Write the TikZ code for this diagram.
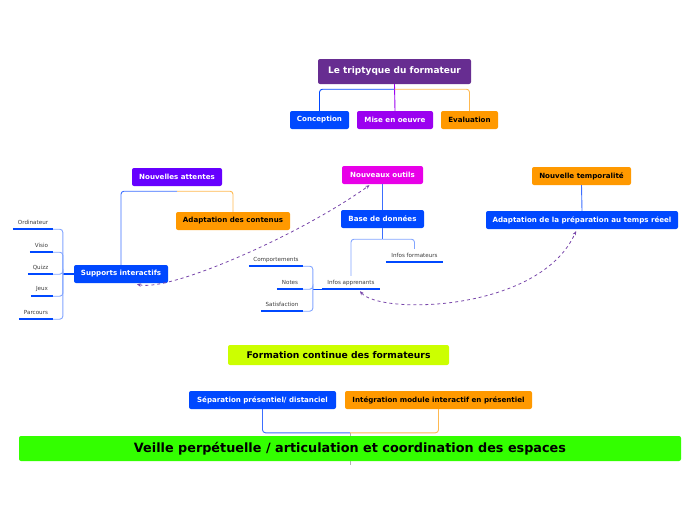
\documentclass[tikz,border=0pt]{standalone}
\usepackage{fontspec}
\setmainfont{DejaVu Sans}
\usetikzlibrary{arrows.meta,backgrounds}
\definecolor{rootpurple}{RGB}{103,45,145}
\definecolor{mapblue}{RGB}{0,72,255}
\definecolor{miseviolet}{RGB}{155,0,240}
\definecolor{attviolet}{RGB}{102,0,255}
\definecolor{outmagenta}{RGB}{232,0,232}
\definecolor{maporange}{RGB}{255,153,0}
\definecolor{lightorange}{RGB}{255,185,80}
\definecolor{lightblue}{RGB}{130,165,255}
\definecolor{midblue}{RGB}{60,110,255}
\definecolor{lime}{RGB}{204,255,0}
\definecolor{brightgreen}{RGB}{51,255,0}
\definecolor{dashpurple}{RGB}{120,70,170}
\definecolor{leaftext}{RGB}{60,60,60}

\begin{document}
\begin{tikzpicture}[x=1pt,y=-1pt,
  box/.style={rounded corners=2pt,inner sep=0pt,minimum height=18pt,
    font=\bfseries\fontsize{7.1}{8}\selectfont,text=white},
  leaf/.style={inner sep=0pt,minimum height=13pt,
    font=\fontsize{5.6}{6}\selectfont,text=leaftext,
    append after command={(\tikzlastnode.south west) edge[line width=2.4pt,mapblue] (\tikzlastnode.south east)}},
  link/.style={line width=0.9pt,rounded corners=3pt},
  twoway/.style={dashed,line width=0.8pt,dashpurple,
    {Stealth[length=4pt,width=3.5pt]}-{Stealth[length=4pt,width=3.5pt]}}]
\useasboundingbox (0,0) rectangle (696,520);

% triptyque
\node[box,fill=rootpurple,minimum width=153pt,minimum height=25pt,
  font=\bfseries\fontsize{9}{10}\selectfont] (root) at (394.5,71.5) {Le triptyque du formateur};
\node[box,fill=mapblue,minimum width=59pt] (concep) at (319.5,120) {Conception};
\node[box,fill=miseviolet,minimum width=76pt] (mise) at (395,120) {Mise en oeuvre};
\node[box,fill=maporange,text=black,minimum width=57pt] (eval) at (469.5,120) {Evaluation};
\coordinate (rootj) at ([yshift=-5pt]root.south);
\draw[link,mapblue] (rootj) -| (concep.north);
\draw[link,miseviolet] (root.south) -- (mise.north);
\draw[link,lightorange] (rootj) -| (eval.north);

% attentes
\node[box,fill=attviolet,minimum width=90pt] (attentes) at (177,177) {Nouvelles attentes};
\node[box,fill=maporange,text=black,minimum width=114pt] (adapt) at (233,221) {Adaptation des contenus};
\node[box,fill=mapblue,minimum width=94pt] (sup) at (121,274) {Supports interactifs};
\coordinate (attj) at ([yshift=-5pt]attentes.south);
\draw[link,midblue] (attj) -| (sup.north);
\draw[link,lightorange] (attj) -| (adapt.north);

\node[leaf,minimum width=40pt] (ordi) at (33,222.5) {Ordinateur};
\node[leaf,minimum width=23pt] (visio) at (41.5,245.5) {Visio};
\node[leaf,minimum width=25pt] (quizz) at (40.5,267.5) {Quizz};
\node[leaf,minimum width=22pt] (jeux) at (42,289.5) {Jeux};
\node[leaf,minimum width=34pt] (parcours) at (36,312.5) {Parcours};
\coordinate (supj) at ([xshift=-11pt]sup.west);
\draw[line width=1.2pt,mapblue] (sup.west) -- (supj);
\foreach \l in {ordi,visio,quizz,jeux,parcours}
  \draw[link,lightblue] (supj) |- (\l.south east);

% outils
\node[box,fill=outmagenta,minimum width=81pt] (outils) at (382.5,175) {Nouveaux outils};
\node[box,fill=mapblue,minimum width=83pt] (base) at (382.5,219) {Base de données};
\draw[link,midblue] (outils.south) -- (base.north);
\node[leaf,minimum width=58pt] (infosapp) at (351,282.5) {Infos apprenants};
\node[leaf,minimum width=57pt] (infosform) at (414.5,255.5) {Infos formateurs};
\coordinate (basej) at ([yshift=-11pt]base.south);
\draw[link,midblue] (base.south) -- (basej);
\draw[link,lightblue] (basej) -| (infosapp.north);
\draw[link,lightblue] (basej) -| (infosform.north);

\node[leaf,minimum width=54pt] (comport) at (276,259.5) {Comportements};
\node[leaf,minimum width=26pt] (notes) at (290,282.5) {Notes};
\node[leaf,minimum width=42pt] (satisf) at (282,304.5) {Satisfaction};
\coordinate (appj) at ([xshift=-9pt]infosapp.south west);
\draw[line width=1.2pt,mapblue] (infosapp.south west) -- (appj);
\foreach \l in {comport,notes,satisf}
  \draw[link,lightblue] (appj) |- (\l.south east);

% temporalite
\node[box,fill=maporange,text=black,minimum width=99pt] (tempo) at (581.5,176) {Nouvelle temporalité};
\node[box,fill=mapblue,minimum width=192pt] (prep) at (582,220) {Adaptation de la préparation au temps réeel};
\draw[link,midblue] (tempo.south) -- (prep.north);

% liens
\draw[twoway] ([xshift=16pt,yshift=-1pt]sup.south) .. controls (170,292) and (300,235) .. ([xshift=-13pt,yshift=-1pt]outils.south);
\draw[twoway] ([xshift=9pt,yshift=-2pt]infosapp.south) .. controls (380,315) and (540,312) .. ([xshift=-6pt,yshift=-2pt]prep.south);

% formation
\node[box,fill=lime,text=black,minimum width=221pt,minimum height=20pt,
  font=\bfseries\fontsize{9.2}{10}\selectfont] (formation) at (338.5,355) {Formation continue des formateurs};

% veille
\node[box,fill=mapblue,minimum width=147pt] (sep) at (262.5,400) {Séparation présentiel/ distanciel};
\node[box,fill=maporange,text=black,minimum width=187pt] (integ) at (438.5,400) {Intégration module interactif en présentiel};
\node[box,fill=brightgreen,text=black,minimum width=662pt,minimum height=25pt,
  font=\bfseries\fontsize{12.8}{14}\selectfont] (veille) at (350,448.5) {Veille perpétuelle / articulation et coordination des espaces};
\coordinate (veillej) at ([yshift=3pt]veille.north);
\begin{scope}[on background layer]
\draw[gray!60,line width=0.5pt] (veillej) -- ([yshift=-4pt]veille.south);
\end{scope}
\draw[link,midblue] (veillej) -| (sep.south);
\draw[link,lightorange] (veillej) -| (integ.south);
\end{tikzpicture}
\end{document}
